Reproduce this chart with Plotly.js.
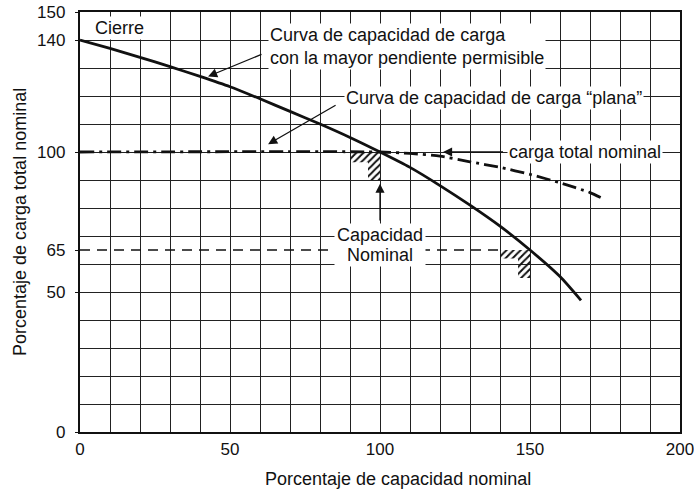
<!DOCTYPE html>
<html>
<head>
<meta charset="utf-8">
<script src="https://cdn.plot.ly/plotly-3.0.1.min.js"></script>
<style>html,body{margin:0;padding:0;background:#fff;}#chart{width:694px;height:490px;}</style>
</head>
<body>
<div id="chart"></div>
<script>
// Curva de capacidad de carga con la mayor pendiente permisible
const capX = [0, 10, 20, 30, 40, 50, 60, 70, 80, 90, 100, 110, 120, 130, 140, 150, 160, 167];
const capY = [140, 137, 133.8, 130.5, 127, 123.3, 119, 114.5, 110, 105.2, 100, 94.5, 88, 81, 73.5, 65, 55.5, 47];
// Curva de capacidad de carga "plana"
const flatX = [0, 100, 110, 120, 130, 140, 150, 160, 170, 175];
const flatY = [100, 100, 99.5, 98.5, 96.5, 94.5, 92, 89, 85.5, 83];
// Capacidad nominal (65 %)
const nomX = [0, 140];
const nomY = [65, 65];
// Hatched zones
const hatch1X = [90, 100, 100, 96, 96, 90, 90];
const hatch1Y = [100, 100, 90, 90, 96.3, 96.3, 100];
const hatch2X = [140, 150, 150, 146, 146, 140, 140];
const hatch2Y = [65, 65, 55, 55, 62, 62, 65];
// Tick labels
const xTickVals = [0,10,20,30,40,50,60,70,80,90,100,110,120,130,140,150,160,170,180,190,200];
const xTickText = xTickVals.map(v => v % 50 === 0 ? String(v) : '');
const yTickVals = [0, 50, 65, 100, 140, 150];
const yTickText = ['0', '50', '65', '100', '140', '150'];

const FONT = 'Liberation Sans, Arial, Helvetica, sans-serif';
const hatchPattern = {shape: '/', fgcolor: '#111', bgcolor: 'rgba(255,255,255,0)', size: 5, solidity: 0.4};

const traces = [
  {x: [0, 200], y: [0, 150], yaxis: 'y2', mode: 'markers', marker: {opacity: 0}, hoverinfo: 'skip', showlegend: false},
  {x: hatch1X, y: hatch1Y, mode: 'lines', fill: 'toself', fillcolor: 'rgba(0,0,0,0)', fillpattern: hatchPattern, line: {width: 0}, hoverinfo: 'skip'},
  {x: hatch2X, y: hatch2Y, mode: 'lines', fill: 'toself', fillcolor: 'rgba(0,0,0,0)', fillpattern: hatchPattern, line: {width: 0}, hoverinfo: 'skip'},
  {x: nomX, y: nomY, mode: 'lines', line: {color: '#111', width: 1.5, dash: '10px,7px'}},
  {x: flatX, y: flatY, mode: 'lines', line: {color: '#111', width: 2.8, dash: '14px,5px,3px,5px', shape: 'spline', smoothing: 0.6}},
  {x: capX, y: capY, mode: 'lines', line: {color: '#111', width: 2.8, shape: 'spline', smoothing: 0.6}}
];

const txtFont = {family: FONT, size: 18, color: '#111'};
function label(x, y, text, opts) {
  return Object.assign({x: x, y: y, xref: 'x', yref: 'y', text: text, showarrow: false,
    font: txtFont, bgcolor: '#fff', borderpad: 1}, opts || {});
}
function arrow(x, y, ax, ay) {
  return {x: x, y: y, ax: ax, ay: ay, xref: 'x', yref: 'y', axref: 'x', ayref: 'y', text: '',
    showarrow: true, arrowhead: 2, arrowsize: 1.4, arrowwidth: 1.3, arrowcolor: '#111'};
}

const layout = {
  width: 694, height: 490,
  margin: {l: 80, r: 14, t: 12, b: 58},
  paper_bgcolor: '#fff', plot_bgcolor: '#fff',
  showlegend: false,
  font: {family: FONT, size: 17, color: '#111'},
  xaxis: {
    range: [0, 200], tickvals: xTickVals, ticktext: xTickText,
    showgrid: true, gridcolor: '#222', gridwidth: 1, zeroline: false,
    showline: true, mirror: true, linecolor: '#111', linewidth: 2.2,
    ticks: '', ticklabelstandoff: 0, ticklabeloverflow: 'allow',
    tickfont: {family: FONT, size: 17, color: '#111'}
  },
  yaxis: {
    range: [0, 150], tickvals: yTickVals, ticktext: yTickText,
    showgrid: false, zeroline: false,
    showline: true, mirror: true, linecolor: '#111', linewidth: 2.2,
    ticks: 'outside', ticklen: 3, tickcolor: '#111', ticklabelstandoff: 6,
    ticklabeloverflow: 'allow',
    tickfont: {family: FONT, size: 17, color: '#111'}
  },
  yaxis2: {
    range: [0, 150], overlaying: 'y', side: 'left', dtick: 10, tick0: 0,
    showgrid: true, gridcolor: '#222', gridwidth: 1, zeroline: false,
    showticklabels: false, ticks: '', showline: false
  },
  annotations: [
    label(13.3, 144.3, 'Cierre'),
    label(62.7, 137.8, 'Curva de capacidad de carga<br>con la mayor pendiente permisible', {xanchor: 'left', align: 'left'}),
    label(138, 119.3, 'Curva de capacidad de carga “plana”'),
    label(168.2, 100, 'carga total nominal'),
    label(100, 63.2, 'Nominal', {width: 88}),
    label(100, 70.2, 'Capacidad', {width: 88}),
    arrow(42.7, 127, 61, 135.1),
    arrow(62.7, 102.8, 85.7, 117),
    arrow(121, 100, 141.5, 100),
    arrow(100, 88.7, 100, 75),
    {x: 0.53, y: -0.113, xref: 'paper', yref: 'paper', xanchor: 'center', yanchor: 'middle',
      text: 'Porcentaje de capacidad nominal', showarrow: false, font: txtFont},
    {x: -0.1, y: 0.5, xref: 'paper', yref: 'paper', xanchor: 'center', yanchor: 'middle',
      text: 'Porcentaje de carga total nominal', textangle: -90, showarrow: false, font: txtFont}
  ]
};

Plotly.newPlot('chart', traces, layout, {displayModeBar: false, staticPlot: true});
</script>
</body>
</html>
